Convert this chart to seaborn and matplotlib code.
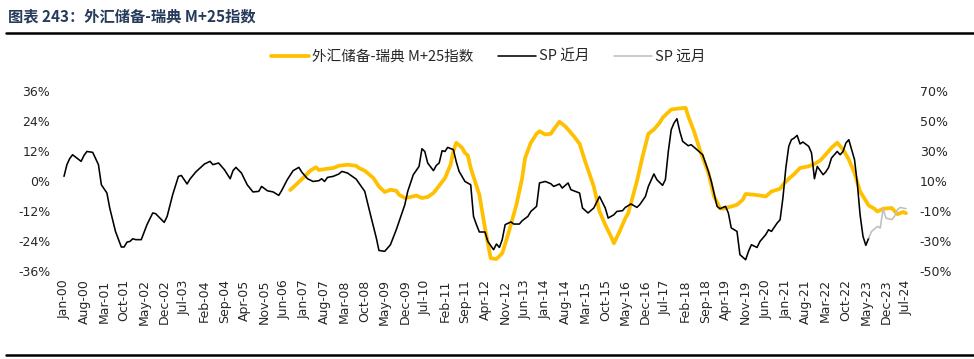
import pandas as pd
import matplotlib
matplotlib.use("Agg")
import matplotlib.pyplot as plt
import matplotlib.dates as mdates
from matplotlib.lines import Line2D
import seaborn as sns

# ---------------- data ----------------
title = "图表 243：外汇储备-瑞典 M+25指数"
label_fx = "外汇储备-瑞典 M+25指数"
label_near = "SP 近月"
label_far = "SP 远月"

# FX reserves - Sweden, M+25 index (left axis, %)
fx_dates = ["2006-08", "2006-10", "2007-01", "2007-03", "2007-05", "2007-06", "2007-09", "2007-11",
            "2008-01", "2008-04", "2008-07", "2008-08", "2008-10", "2009-01", "2009-03", "2009-05",
            "2009-07", "2009-09", "2009-10", "2009-12", "2010-02", "2010-04", "2010-06", "2010-08",
            "2010-10", "2010-12", "2011-02", "2011-04", "2011-05", "2011-06", "2011-08", "2011-09",
            "2011-10", "2011-11", "2012-02", "2012-04", "2012-06", "2012-08", "2012-10", "2012-12",
            "2013-03", "2013-05", "2013-06", "2013-08", "2013-10", "2013-11", "2014-01", "2014-03",
            "2014-04", "2014-06", "2014-08", "2014-09", "2014-11", "2015-01", "2015-03", "2015-06",
            "2015-08", "2015-10", "2015-12", "2016-01", "2016-03", "2016-05", "2016-06", "2016-09",
            "2016-11", "2017-01", "2017-03", "2017-05", "2017-06", "2017-09", "2017-11", "2018-02",
            "2018-03", "2018-05", "2018-07", "2018-10", "2018-12", "2019-02", "2019-03", "2019-06",
            "2019-08", "2019-10", "2019-11", "2020-02", "2020-04", "2020-06", "2020-08", "2020-11",
            "2020-12", "2021-02", "2021-04", "2021-06", "2021-09", "2021-11", "2022-01", "2022-03",
            "2022-05", "2022-07", "2022-09", "2022-11", "2023-01", "2023-03", "2023-06", "2023-08",
            "2023-09", "2023-11", "2024-02", "2024-04", "2024-06", "2024-07"]
fx_values = [-3.6, -1.5, 1.8, 4.1, 5.5, 4.4, 4.9, 5.2,
             6.1, 6.5, 6.1, 5.2, 4.1, 1.2, -2.2, -4.4,
             -3.5, -3.9, -5.5, -6.8, -6.4, -5.8, -6.8, -6.4,
             -4.8, -1.9, 1.2, 6.5, 11.9, 15.3, 13.3, 11.2,
             10.3, 5.2, -5.5, -18.9, -30.9, -31.2, -28.9, -21.6,
             -9.5, 1.2, 9.2, 15.3, 18.9, 19.9, 18.6, 18.9,
             20.6, 23.7, 21.9, 20.6, 17.9, 14.9, 7.9, -2.2,
             -12.2, -17.5, -22.2, -24.9, -20.2, -14.9, -12.9, -0.2,
             9.9, 18.9, 20.6, 23.3, 25.3, 28.6, 28.9, 29.3,
             25.9, 19.9, 12.6, 3.2, -6.2, -10.8, -11.1, -10.2,
             -9.5, -7.5, -5.2, -5.5, -5.8, -6.2, -4.2, -3.1,
             -1.5, 0.9, 2.8, 5.2, 5.9, 6.8, 8.2, 10.6,
             13.3, 15.3, 12.6, 8.6, 3.2, -4.2, -9.8, -11.1,
             -12.2, -11.1, -10.8, -13.3, -12.4, -12.9]

# SP near month (right axis, %)
near_dates = ["2000-01", "2000-02", "2000-03", "2000-04", "2000-07", "2000-08", "2000-09", "2000-11",
              "2001-01", "2001-02", "2001-04", "2001-05", "2001-07", "2001-09", "2001-10", "2001-11",
              "2001-12", "2002-01", "2002-02", "2002-04", "2002-06", "2002-08", "2002-09", "2002-12",
              "2003-01", "2003-03", "2003-05", "2003-06", "2003-08", "2003-09", "2003-11", "2004-02",
              "2004-04", "2004-05", "2004-07", "2004-09", "2004-11", "2004-12", "2005-01", "2005-03",
              "2005-05", "2005-07", "2005-09", "2005-10", "2005-12", "2006-02", "2006-04", "2006-05",
              "2006-07", "2006-09", "2006-11", "2006-12", "2007-02", "2007-04", "2007-06", "2007-07",
              "2007-08", "2007-09", "2007-11", "2008-01", "2008-02", "2008-04", "2008-07", "2008-10",
              "2008-12", "2009-02", "2009-03", "2009-05", "2009-07", "2009-09", "2009-12", "2010-01",
              "2010-03", "2010-05", "2010-06", "2010-07", "2010-08", "2010-10", "2010-11", "2010-12",
              "2011-01", "2011-02", "2011-03", "2011-05", "2011-06", "2011-07", "2011-09", "2011-11",
              "2011-12", "2012-01", "2012-02", "2012-04", "2012-05", "2012-07", "2012-08", "2012-09",
              "2012-10", "2012-11", "2013-01", "2013-02", "2013-04", "2013-05", "2013-07", "2013-08",
              "2013-10", "2013-11", "2014-01", "2014-03", "2014-04", "2014-06", "2014-07", "2014-09",
              "2014-10", "2015-01", "2015-02", "2015-04", "2015-06", "2015-08", "2015-10", "2015-11",
              "2016-01", "2016-02", "2016-04", "2016-05", "2016-07", "2016-09", "2016-10", "2016-12",
              "2017-01", "2017-03", "2017-04", "2017-06", "2017-07", "2017-08", "2017-09", "2017-10",
              "2017-11", "2017-12", "2018-01", "2018-03", "2018-04", "2018-06", "2018-08", "2018-10",
              "2018-11", "2019-01", "2019-02", "2019-04", "2019-05", "2019-06", "2019-08", "2019-09",
              "2019-11", "2019-12", "2020-01", "2020-03", "2020-04", "2020-06", "2020-07", "2020-08",
              "2020-10", "2020-11", "2020-12", "2021-01", "2021-02", "2021-03", "2021-04", "2021-05",
              "2021-06", "2021-07", "2021-09", "2021-10", "2021-11", "2021-12", "2022-02", "2022-03",
              "2022-04", "2022-05", "2022-07", "2022-08", "2022-09", "2022-10", "2022-11", "2023-01",
              "2023-02", "2023-03", "2023-04", "2023-05", "2023-06"]
near_values = [13.1, 20.9, 24.9, 27.5, 23.1, 27.1, 29.7, 29.1,
               20.9, 7.5, 2.0, -8.0, -23.6, -34.0, -34.0, -30.7,
               -30.3, -28.5, -29.1, -29.1, -19.1, -11.3, -11.8, -17.6,
               -13.6, 0.9, 13.1, 13.7, 8.0, 11.3, 16.0, 21.3,
               23.1, 20.9, 22.0, 17.5, 11.5, 16.9, 19.1, 15.3,
               7.5, 2.7, 3.1, 6.4, 3.5, 2.7, 0.4, 3.5,
               10.9, 16.9, 19.1, 16.0, 11.5, 9.7, 10.2, 11.5,
               9.7, 12.4, 13.1, 14.7, 16.4, 15.3, 11.3, 3.1,
               -12.5, -28.0, -36.3, -36.9, -32.5, -22.5, -5.8, 3.1,
               14.2, 19.7, 31.5, 29.7, 22.0, 16.9, 20.4, 22.0,
               30.2, 29.7, 32.4, 30.9, 22.7, 16.4, 9.7, 7.5,
               -13.6, -19.1, -24.0, -24.0, -30.3, -35.8, -32.0, -34.3,
               -29.1, -19.1, -17.3, -18.7, -18.7, -16.5, -13.6, -10.3,
               -6.9, 8.7, 9.7, 8.2, 6.4, 8.0, 5.3, 8.7,
               4.2, 2.0, -8.0, -11.3, -8.0, -0.3, -8.0, -14.7,
               -12.5, -10.3, -9.8, -7.6, -5.3, -7.6, -5.8, -0.3,
               6.4, 14.7, 10.9, 7.1, 10.9, 29.7, 44.2, 48.7,
               51.5, 43.1, 36.4, 33.5, 34.2, 30.9, 27.5, 16.4,
               9.7, -6.9, -8.5, -6.9, -11.3, -21.3, -23.6, -39.1,
               -42.5, -36.9, -32.5, -34.3, -30.3, -25.8, -22.5, -23.6,
               -18.0, -15.8, -1.3, 18.7, 33.1, 37.5, 38.7, 40.4,
               34.7, 36.0, 33.1, 28.7, 11.5, 19.7, 14.2, 16.0,
               19.1, 25.3, 29.7, 27.5, 29.7, 35.3, 37.5, 24.2,
               7.5, -12.5, -26.9, -32.9, -28.0]

# SP far month (right axis, %)
far_dates = ["2023-06", "2023-07", "2023-09", "2023-10", "2023-11", "2023-12", "2024-02", "2024-03",
             "2024-04", "2024-05", "2024-07"]
far_values = [-28.0, -23.6, -20.3, -21.3, -8.5, -14.7, -15.8, -13.6, -9.1, -7.6, -8.5]

left_ticks = [-36, -24, -12, 0, 12, 24, 36]
left_labels = ["-36%", "-24%", "-12%", "0%", "12%", "24%", "36%"]
right_ticks = [-50, -30, -10, 10, 30, 50, 70]
right_labels = ["-50%", "-30%", "-10%", "10%", "30%", "50%", "70%"]
x_tick_dates = pd.date_range("2000-01-01", "2024-07-01", freq="7MS")
x_tick_labels = [d.strftime("%b-%y") for d in x_tick_dates]

# ---------------- style ----------------
sns.set_theme(style="white")
plt.rcParams['font.family'] = ['Noto Sans CJK SC', 'DejaVu Sans']

W, H = 974, 359
fig = plt.figure(figsize=(W / 100, H / 100), dpi=100)
ax_l, ax_r, ax_t, ax_b = 60, 910, 91, 271
ax = fig.add_axes([ax_l / W, 1 - ax_b / H, (ax_r - ax_l) / W, (ax_b - ax_t) / H])
ax2 = ax.twinx()

df_fx = pd.DataFrame({"date": pd.to_datetime(fx_dates), "value": fx_values})
df_near = pd.DataFrame({"date": pd.to_datetime(near_dates), "value": near_values})
df_far = pd.DataFrame({"date": pd.to_datetime(far_dates), "value": far_values})

YEL, GREY = "#FFC000", "#BFBFBF"
sns.lineplot(data=df_fx, x="date", y="value", ax=ax, color=YEL, linewidth=2.7)
sns.lineplot(data=df_near, x="date", y="value", ax=ax2, color="black", linewidth=1.15)
sns.lineplot(data=df_far, x="date", y="value", ax=ax2, color=GREY, linewidth=1.15)

x0 = mdates.date2num(pd.Timestamp("2000-01-01"))
x1 = mdates.date2num(pd.Timestamp("2024-07-01"))
pad = (x1 - x0) * 4 / 842
ax.set_xlim(x0 - pad, x1 + pad)

ax.set_ylim(-36, 36)
ax2.set_ylim(-50, 70)
ax.set_yticks(left_ticks)
ax.set_yticklabels(left_labels)
ax2.set_yticks(right_ticks)
ax2.set_yticklabels(right_labels)
ax.set_xticks(x_tick_dates)
ax.set_xticklabels(x_tick_labels, rotation=90, va="top", ha="center")

TXT = "#262626"
TICKFONT = "DejaVu Sans"
for a in (ax, ax2):
    a.set_xlabel("")
    a.set_ylabel("")
    a.grid(False)
    for s in a.spines.values():
        s.set_visible(False)
    a.tick_params(axis="both", length=0, labelsize=9, colors=TXT)
    for t in a.get_xticklabels() + a.get_yticklabels():
        t.set_family(TICKFONT)
ax.tick_params(axis="y", pad=7)
ax2.tick_params(axis="y", pad=7)
ax.tick_params(axis="x", pad=6)

# legend
handles = [Line2D([], [], color=YEL, lw=2.7), Line2D([], [], color="black", lw=1.15),
           Line2D([], [], color=GREY, lw=1.15)]
fig.legend(handles, [label_fx, label_near, label_far], loc="center", ncol=3,
           bbox_to_anchor=(488 / W, 1 - 57 / H), frameon=False, fontsize=10.5,
           handlelength=2.6, handletextpad=0.2, columnspacing=1.7, labelcolor=TXT)

# title and rules
fig.text(8 / W, 1 - 16 / H, title, fontsize=11, fontweight="bold", color="#263A5A",
         va="center", ha="left")
fig.add_artist(Line2D([6 / W, 1.0], [1 - 32.5 / H] * 2, color="black", lw=1.8))
fig.add_artist(Line2D([6 / W, 1.0], [1 - 355 / H] * 2, color="black", lw=1.8))

fig.savefig("out.png", dpi=100)
